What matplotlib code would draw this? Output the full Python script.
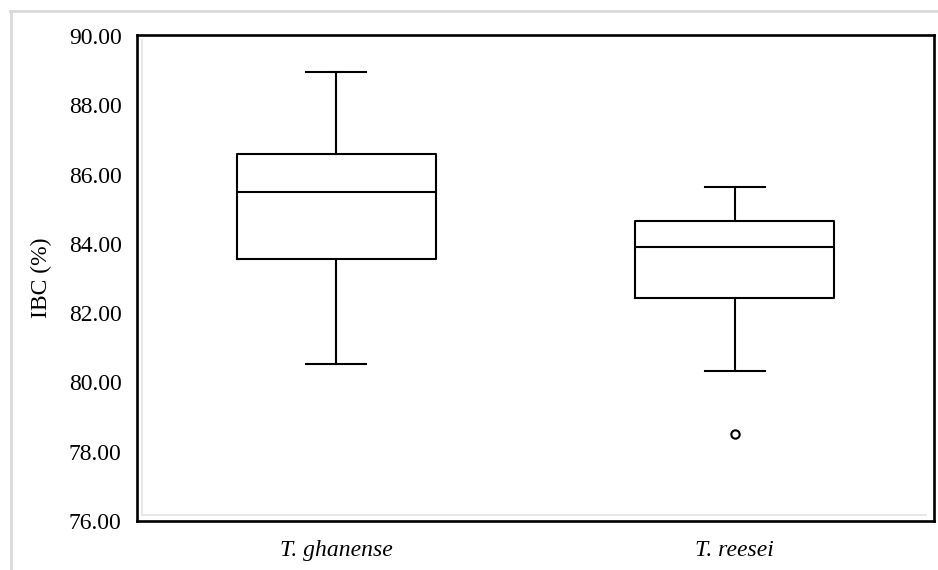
import matplotlib
matplotlib.use("Agg")
import matplotlib.pyplot as plt
from matplotlib.lines import Line2D

# Five-number summaries (IBC, %)
species = ["T. ghanense", "T. reesei"]
whisker_low = [80.53, 80.33]
q1 = [83.56, 82.45]
median = [85.51, 83.91]
q3 = [86.59, 84.67]
whisker_high = [88.97, 85.65]
outliers = [[], [78.51]]

yticks = [76, 78, 80, 82, 84, 86, 88, 90]

plt.rcParams["font.family"] = ["Liberation Serif", "DejaVu Serif"]

stats = []
for i, name in enumerate(species):
    stats.append(dict(label=name, whislo=whisker_low[i], q1=q1[i], med=median[i],
                      q3=q3[i], whishi=whisker_high[i], fliers=outliers[i]))

fig = plt.figure(figsize=(9.38, 5.70), dpi=100)
ax = fig.add_axes([137 / 938, 49 / 570, 797 / 938, 486 / 570])

line = dict(color="black", linewidth=1.5)
ax.bxp(stats, positions=[1, 2], widths=0.5, capwidths=0.15,
       boxprops=line, medianprops=line, whiskerprops=line, capprops=line,
       flierprops=dict(marker="o", markersize=6, markerfacecolor="white",
                       markeredgecolor="black", markeredgewidth=1.5))

ax.set_xlim(0.5, 2.5)
ax.set_ylim(76, 90.03)
ax.set_yticks(yticks)
ax.set_yticklabels([f"{v:.2f}" for v in yticks])
ax.set_xticks([1, 2])
ax.set_xticklabels(species, style="italic")
ax.tick_params(axis="both", length=0, labelsize=17)
ax.tick_params(axis="y", pad=11)
ax.tick_params(axis="x", pad=14)
ax.set_ylabel("IBC (%)", fontsize=17)
ax.yaxis.set_label_coords(-0.107, 0.5)

for s in ax.spines.values():
    s.set_linewidth(1.9)
    s.set_color("black")

# faint inner shadow lines (Excel-style) along left and bottom
ax.add_line(Line2D([0.006, 0.006], [0.012, 0.99], transform=ax.transAxes,
                   color="#e3e3e3", linewidth=1.2))
ax.add_line(Line2D([0.006, 0.99], [0.012, 0.012], transform=ax.transAxes,
                   color="#e3e3e3", linewidth=1.2))

# light grey chart-area border (cut off on the right and bottom)
fig.add_artist(Line2D([10.5 / 938, 10.5 / 938], [0, 559 / 570],
                      color="#d9d9d9", linewidth=2))
fig.add_artist(Line2D([10 / 938, 1], [559 / 570, 559 / 570],
                      color="#d9d9d9", linewidth=2))

fig.savefig("out.png", dpi=100)
